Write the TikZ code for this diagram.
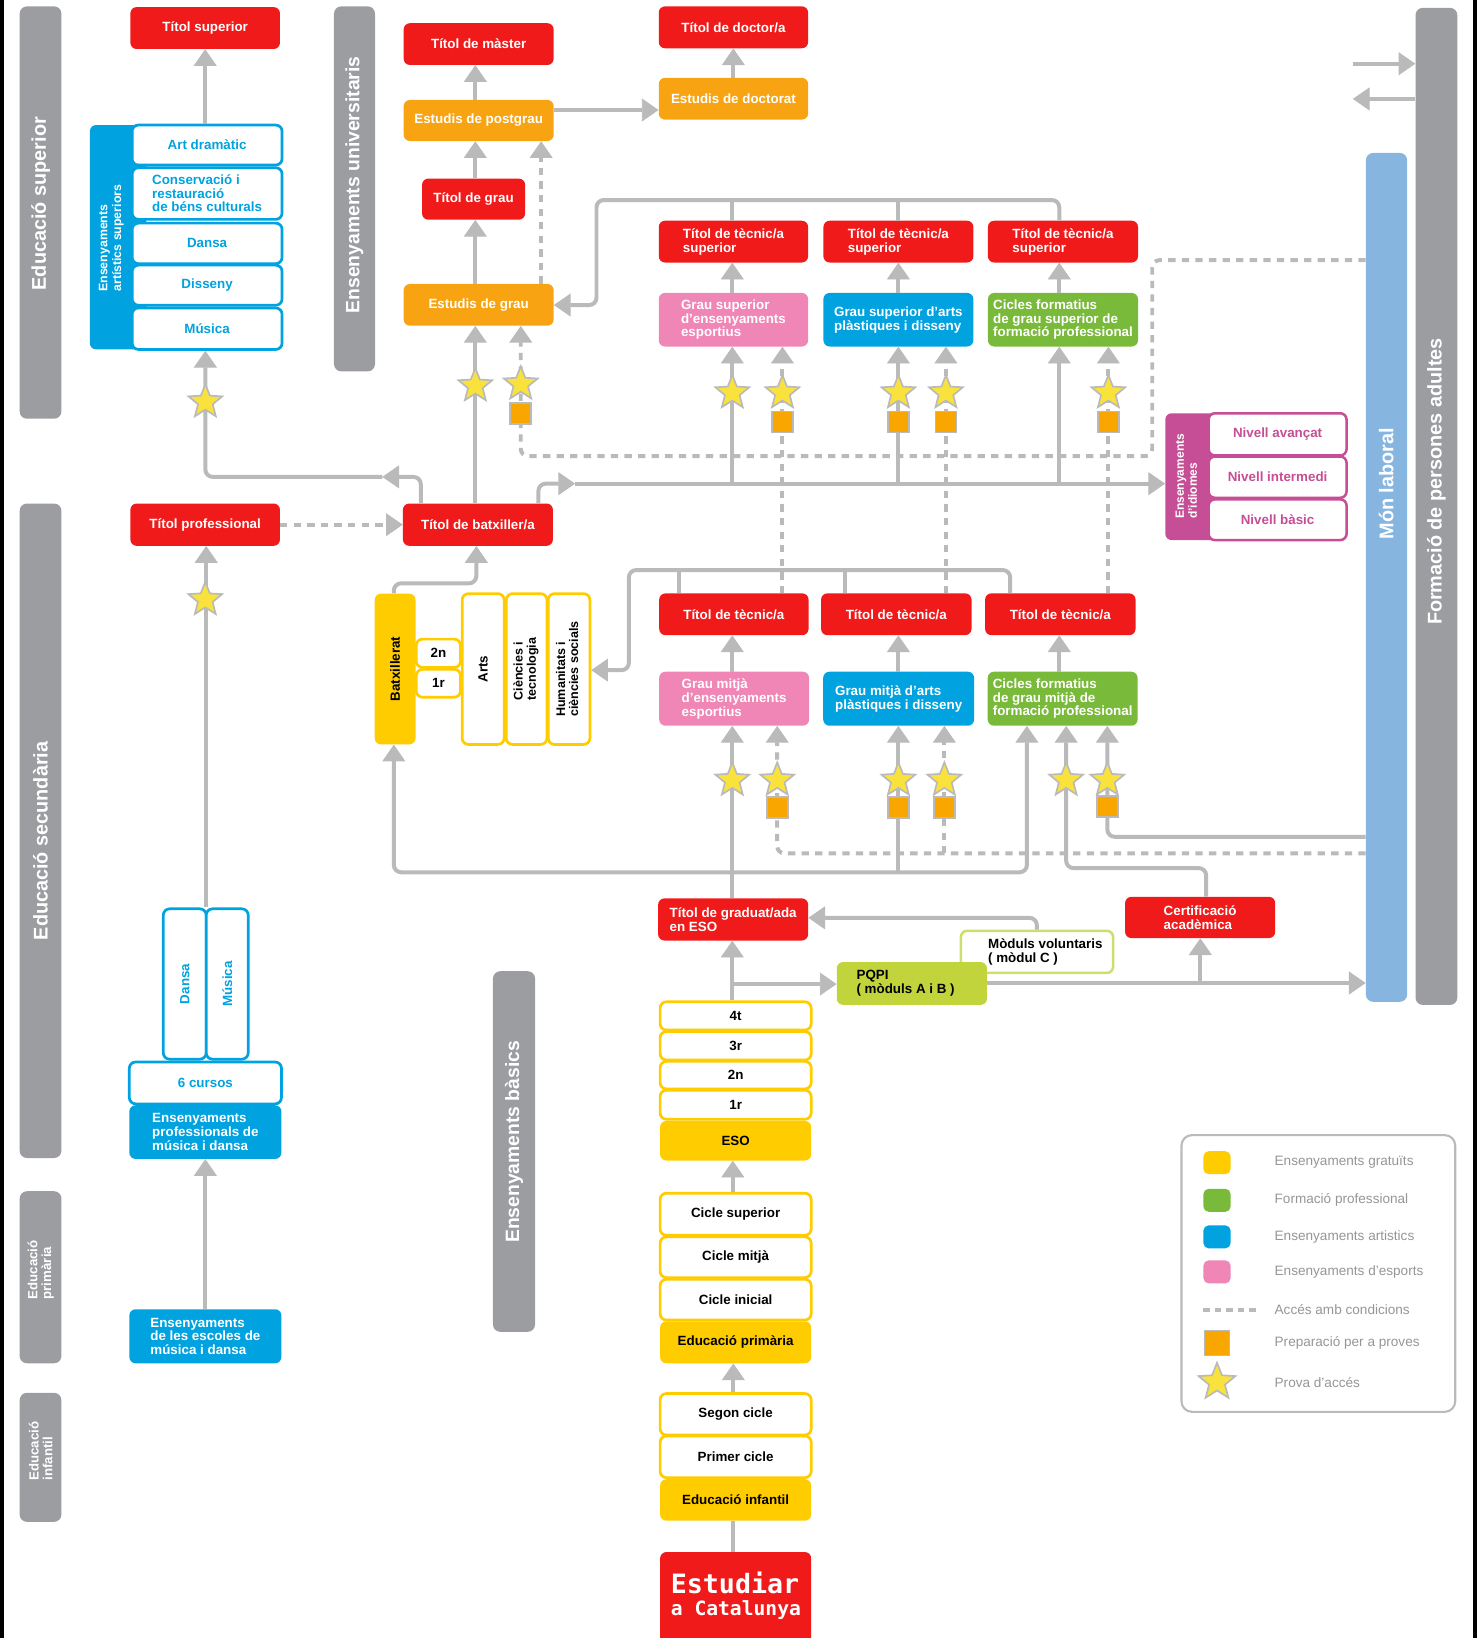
\documentclass[tikz,border=0pt]{standalone}
\usepackage{fontspec}
\setmainfont{Liberation Sans}
\newfontfamily\monof{DejaVu Sans Mono}
\usepackage{graphicx}
\usetikzlibrary{arrows.meta,shapes.geometric}
\definecolor{cred}{RGB}{240,26,26}
\definecolor{corange}{RGB}{248,164,18}
\definecolor{cpink}{RGB}{240,134,182}
\definecolor{cblue}{RGB}{0,163,224}
\definecolor{cgreen}{RGB}{122,186,58}
\definecolor{clime}{RGB}{193,212,60}
\definecolor{climeb}{RGB}{205,222,110}
\definecolor{cyellow}{RGB}{255,204,0}
\definecolor{cmag}{RGB}{198,78,150}
\definecolor{cbar}{RGB}{155,157,160}
\definecolor{cmon}{RGB}{134,182,224}
\definecolor{cline}{RGB}{186,186,186}
\definecolor{cstar}{RGB}{250,226,60}
\definecolor{csq}{RGB}{250,166,0}
\definecolor{clegtxt}{RGB}{150,150,150}
\newcommand\fs{\fontsize{12.8}{13.2}\selectfont}
\newcommand\rt[1]{\rotatebox{90}{\begin{tabular}{@{}l@{}}#1\end{tabular}}}
\newcommand\bx[7]{\node[#6,minimum width={(#4-#2)*1pt},minimum height={(#5-#3)*1pt}] (#1) at ({(#2+#4)/2},{(#3+#5)/2}) {#7};}
\begin{document}
\begin{tikzpicture}[x=1pt,y=-1pt,
 bar/.style={fill=cbar,rounded corners=7pt,inner sep=0pt},
 barlab/.style={text=white,font=\bfseries\fontsize{19}{20}\selectfont,rotate=90,inner sep=0pt,align=left},
 bx/.style={rounded corners=6pt,inner sep=0pt,font=\bfseries\fs,align=center},
 rbx/.style={bx,fill=cred,text=white},
 obx/.style={bx,fill=corange,text=white},
 pbx/.style={bx,fill=cpink,text=white},
 bbx/.style={bx,fill=cblue,text=white},
 gbx/.style={bx,fill=cgreen,text=white},
 ybx/.style={bx,fill=cyellow,text=black},
 wby/.style={bx,fill=white,draw=cyellow,line width=2.6pt,text=black},
 wbb/.style={bx,fill=white,draw=cblue,line width=2.6pt,text=cblue},
 wbm/.style={bx,fill=white,draw=cmag,line width=2.4pt,text=cmag},
 lbx/.style={bx,fill=clime,text=black},
 wbl/.style={bx,fill=white,draw=climeb,line width=2.4pt,text=black},
 conn/.style={draw=cline,line width=3.8pt,rounded corners=7pt},
 arr/.style={-{Triangle[width=22pt,length=16pt,line width=0.8pt]}},
 dsh/.style={dash pattern=on 7pt off 6pt},
 prova/.style={star,star points=5,star point ratio=2.3,minimum size=34pt,inner sep=0pt,fill=cstar,draw=cline,line width=1.6pt},
 prep/.style={rectangle,minimum width=20pt,minimum height=20pt,inner sep=0pt,fill=csq,draw=cline,line width=1.6pt},
 legt/.style={anchor=west,text=clegtxt,font=\fontsize{13}{14}\selectfont,inner sep=0pt}]
\useasboundingbox (0,0) rectangle (1416,1568);
% frame
\fill[black] (0,0) rectangle (4,1568);
\fill[black] (1410,0) rectangle (1414,1568);
% grey bars
\bx{bEsup}{18.8}{6.1}{58.8}{400.8}{bar}{}
\bx{bEsec}{18.8}{482}{58.8}{1108.5}{bar}{}
\bx{bEprim}{18.8}{1140.3}{58.8}{1305}{bar}{}
\bx{bEinf}{18.8}{1333.3}{58.8}{1456.8}{bar}{}
\bx{bEuni}{319.7}{6.1}{359}{355.5}{bar}{}
\bx{bEbas}{471.9}{929.7}{512.2}{1274.9}{bar}{}
\bx{bFpa}{1355}{7.5}{1395}{962}{bar}{}
\bx{bMon}{1307.5}{146.4}{1347}{959}{bar,fill=cmon}{}
\node[barlab] (lEsup) at (38.8,195) {Educació superior};
\node[barlab] (lEsec) at (38.8,805) {Educació secundària};
\node[barlab,font=\bfseries\fontsize{12.7}{13.2}\selectfont] (lEprim) at (39,1215.5) {Educació\\primària};
\node[barlab,font=\bfseries\fontsize{12.7}{13.2}\selectfont] (lEinf) at (39,1389) {Educació\\infantil};
\node[barlab,font=\bfseries\fontsize{18.5}{20}\selectfont] (lEuni) at (339.3,177) {Ensenyaments universitaris};
\node[barlab,font=\bfseries\fontsize{18.5}{20}\selectfont] (lEbas) at (492,1093) {Ensenyaments bàsics};
\node[barlab] (lFpa) at (1375,461) {Formació de persones adultes};
\node[barlab] (lMon) at (1327,463) {Món laboral};
% university column
\bx{tsup}{124.8}{6.8}{268}{46.9}{rbx}{Títol superior}
\bx{tmas}{386.4}{22.2}{530}{62.2}{rbx}{Títol de màster}
\bx{tdoc}{630.6}{6.1}{773.6}{46.2}{rbx}{Títol de doctor/a}
\bx{edoc}{630.6}{74.5}{773.6}{114.5}{obx}{Estudis de doctorat}
\bx{epos}{386.4}{95.7}{530}{135}{obx}{Estudis de postgrau}
\bx{tgrau}{404}{171}{502.7}{210.3}{rbx}{Títol de grau}
\bx{egrau}{386.4}{271.8}{530}{311.8}{obx}{Estudis de grau}
\bx{tts1}{630.6}{211.3}{773.6}{251.3}{rbx,align=left}{Títol de tècnic/a\\superior}
\bx{tts2}{788.2}{211.3}{931.8}{251.3}{rbx,align=left}{Títol de tècnic/a\\superior}
\bx{tts3}{945.7}{211.3}{1089.4}{251.3}{rbx,align=left}{Títol de tècnic/a\\superior}
\bx{gs1}{630.6}{280.4}{773.6}{331.7}{pbx,align=left}{Grau superior\\d’ensenyaments\\esportius}
\bx{gs2}{788.2}{280.4}{931.8}{331.7}{bbx,align=left}{Grau superior d’arts\\plàstiques i disseny}
\bx{gs3}{945.7}{280.4}{1089.4}{331.7}{gbx,align=left}{Cicles formatius\\de grau superior de\\formació professional}
% artistic superior
\bx{easS}{86}{119.7}{140}{334.5}{bbx}{}
\node[text=white,font=\bfseries\fontsize{11.8}{13}\selectfont,rotate=90,align=left,inner sep=0pt] (easL) at (106.5,228) {Ensenyaments\\artístics superiors};
\bx{eArt}{126.5}{119.7}{270}{158}{wbb}{Art dramàtic}
\bx{eCons}{126.5}{160.6}{270}{210}{wbb,align=left,font=\bfseries\fontsize{12.8}{12.9}\selectfont}{Conservació i\\restauració\\de béns culturals}
\bx{eDan}{126.5}{213.6}{270}{252.4}{wbb}{Dansa}
\bx{eDis}{126.5}{253.8}{270}{292.2}{wbb}{Disseny}
\bx{eMus}{126.5}{294.8}{270}{334.5}{wbb}{Música}
\bx{tprof}{124.8}{482}{268}{522.5}{rbx}{Títol professional}
\bx{batx}{385.7}{482}{529.3}{522.5}{rbx}{Títol de batxiller/a}
% idiomes
\bx{idS}{1115.5}{395.6}{1170}{517}{bx,fill=cmag}{}
\node[text=white,font=\bfseries\fontsize{11.5}{12.5}\selectfont,rotate=90,align=left,inner sep=0pt] (idL) at (1135.5,456) {Ensenyaments\\d’idiomes};
\bx{nAv}{1157}{395.6}{1289}{436}{wbm}{Nivell avançat}
\bx{nIn}{1157}{437}{1289}{476.5}{wbm}{Nivell intermedi}
\bx{nBa}{1157}{478}{1289}{517}{wbm}{Nivell bàsic}
% batxillerat
\bx{batxi}{358.7}{568.3}{397.8}{712.6}{ybx}{\rotatebox{90}{Batxillerat}}
\bx{b2n}{398.5}{611.8}{440.8}{639}{wby}{2n}
\bx{b1r}{398.5}{640.7}{440.8}{667.4}{wby}{1r}
\bx{arts}{442.4}{568.3}{482.6}{712.6}{wby}{\rotatebox{90}{Arts}}
\bx{cien}{484.6}{568.3}{523.6}{712.6}{wby,font=\bfseries\fontsize{12}{12.5}\selectfont}{\rt{Ciències i\\tecnologia}}
\bx{hum}{524.8}{568.3}{564.7}{712.6}{wby,font=\bfseries\fontsize{12}{12.5}\selectfont}{\rt{Humanitats i\\ciències socials}}
% tecnic mig
\bx{ttec1}{631}{568}{774}{608}{rbx}{Títol de tècnic/a}
\bx{ttec2}{786}{568}{930}{608}{rbx}{Títol de tècnic/a}
\bx{ttec3}{943}{568}{1087}{608}{rbx}{Títol de tècnic/a}
\bx{gm1}{631}{643}{774.5}{694.7}{pbx,align=left}{Grau mitjà\\d’ensenyaments\\esportius}
\bx{gm2}{788}{643}{932.5}{694.7}{bbx,align=left}{Grau mitjà d’arts\\plàstiques i disseny}
\bx{gm3}{945.5}{643}{1089}{694.7}{gbx,align=left}{Cicles formatius\\de grau mitjà de\\formació professional}
% bottom
\bx{tgrad}{630}{860}{773.6}{900.3}{rbx,align=left}{Títol de graduat/ada\\en ESO}
\bx{modc}{919.8}{891}{1065.5}{931.4}{wbl,align=left}{\hspace*{16pt}Mòduls voluntaris\\ \hspace*{16pt}( mòdul C )}
\bx{pqpi}{801}{921}{944.8}{961.9}{lbx,align=left}{PQPI\\( mòduls A i B )\hspace*{12pt}}
\bx{cert}{1077}{858.5}{1220.7}{898}{rbx,align=left}{Certificació\\acadèmica}
\bx{y4t}{631.9}{959}{776.5}{986}{wby}{4t}
\bx{y3r}{631.9}{987.4}{776.5}{1014.7}{wby}{3r}
\bx{y2n}{631.9}{1016}{776.5}{1042.4}{wby}{2n}
\bx{y1r}{631.9}{1043.6}{776.5}{1071.4}{wby}{1r}
\bx{eso}{631.9}{1073}{776.5}{1110.9}{ybx}{ESO}
\bx{csup}{631.9}{1142.2}{776.5}{1182.5}{wby}{Cicle superior}
\bx{cmit}{631.9}{1184}{776.5}{1223}{wby}{Cicle mitjà}
\bx{cini}{631.9}{1224.6}{776.5}{1263.6}{wby}{Cicle inicial}
\bx{eprim}{631.9}{1264.8}{776.5}{1305}{ybx}{Educació primària}
\bx{scic}{631.9}{1334}{776.5}{1373.7}{wby}{Segon cicle}
\bx{pcic}{631.9}{1374.6}{776.5}{1414.5}{wby}{Primer cicle}
\bx{einf}{631.9}{1416}{776.5}{1455.7}{ybx}{Educació infantil}
\bx{estud}{631.9}{1485.7}{776.5}{1590}{rbx}{}
\node[anchor=base west,inner sep=0pt,text=white,font=\monof\bfseries\fontsize{25.5}{26}\selectfont] (est1) at (642,1525) {Estudiar};
\node[anchor=base west,inner sep=0pt,text=white,font=\monof\bfseries\fontsize{18.8}{20}\selectfont] (est2) at (642,1546) {a Catalunya};
% left column
\bx{dansaV}{156.3}{870}{197.4}{1013.9}{wbb}{\rotatebox{90}{Dansa}}
\bx{musV}{197.4}{870}{237.6}{1013.9}{wbb}{\rotatebox{90}{Música}}
\bx{c6}{123.8}{1016.6}{269.4}{1056.7}{wbb}{6 cursos}
\bx{ensprof}{123.8}{1058}{269.4}{1109.4}{bbx,align=left}{Ensenyaments\\professionals de\\música i dansa}
\bx{ensesc}{123.8}{1253.3}{269.4}{1305}{bbx,align=left}{Ensenyaments\\de les escoles de\\música i dansa}
% ---------- connectors
\draw[conn,arr] (eArt.north -| tsup.south) -- (tsup.south);
\draw[conn,arr] (batx.north -| 402.8,0) |- (366,456.5);
\draw[conn,arr] (366,456.5) -| (eMus.south -| 196.6,0);
\draw[conn,arr] (batx.north -| 455,0) -- (egrau.south -| 455,0);
\draw[conn,arr] (egrau.north -| 455,0) -- (tgrau.south -| 455,0);
\draw[conn,arr] (tgrau.north -| 455,0) -- (epos.south -| 455,0);
\draw[conn,arr] (epos.north -| 455,0) -- (tmas.south -| 455,0);
\draw[conn,dsh,arr] (egrau.north -| 518,0) -- (epos.south -| 518,0);
\draw[conn,arr] (epos.east |- 0,105.3) -- (edoc.west |- 0,105.3);
\draw[conn,arr] (edoc.north -| 702,0) -- (tdoc.south -| 702,0);
\draw[conn,arr] (batx.north -| 515.4,0) |- (550.5,463);
\draw[conn,arr] (550.5,463) -- (idS.west |- 0,463);
\draw[conn,arr] (701,463) -- (gs1.south -| 701,0);
\draw[conn,arr] (860,463) -- (gs2.south -| 860,0);
\draw[conn,arr] (1014,463) -- (gs3.south -| 1014,0);
\draw[conn,dsh,arr] (bMon.west |- 0,249) -| (1103,436.6) -| (egrau.south -| 498.5,0);
\draw[conn,dsh,arr] (ttec1.north -| 749,0) -- (gs1.south -| 749,0);
\draw[conn,dsh,arr] (ttec2.north -| 905.5,0) -- (gs2.south -| 905.5,0);
\draw[conn,dsh,arr] (ttec3.north -| 1061,0) -- (gs3.south -| 1061,0);
\draw[conn,arr] (gs1.north -| 701,0) -- (tts1.south -| 701,0);
\draw[conn,arr] (gs2.north -| 860,0) -- (tts2.south -| 860,0);
\draw[conn,arr] (gs3.north -| 1014,0) -- (tts3.south -| 1014,0);
\draw[conn] (tts1.north -| 701,0) -- (701,191.5);
\draw[conn] (tts2.north -| 860,0) -- (860,191.5);
\draw[conn,arr] (tts3.north -| 1014,0) |- (571,191.5) |- (egrau.east |- 0,292);
\draw[conn,arr] (gm1.north -| 701,0) -- (ttec1.south -| 701,0);
\draw[conn,arr] (gm2.north -| 860,0) -- (ttec2.south -| 860,0);
\draw[conn,arr] (gm3.north -| 1014,0) -- (ttec3.south -| 1014,0);
\draw[conn] (ttec1.north -| 650,0) -- (650,545.7);
\draw[conn] (ttec2.north -| 808.6,0) -- (808.6,545.7);
\draw[conn,arr] (ttec3.north -| 967,0) |- (602,545.7) |- (hum.east |- 0,641.5);
\draw[conn,arr] (tgrad.north -| 701,0) -- (gm1.south -| 701,0);
\draw[conn,arr] (701,835) -| (batxi.south -| 377,0);
\draw[conn,arr] (701,835) -| (gm3.south -| 983,0);
\draw[conn,arr] (860,835) -- (gm2.south -| 860,0);
\draw[conn,dsh,arr] (bMon.west |- 0,817) -| (gm1.south -| 744,0);
\draw[conn,dsh,arr] (904,817) -- (gm2.south -| 904,0);
\draw[conn,arr] (bMon.west |- 0,801) -| (gm3.south -| 1060,0);
\draw[conn,arr] (cert.north -| 1154.6,0) |- (1020.6,831) -- (gm3.south -| 1020.6,0);
\draw[conn,arr] (y4t.north -| 701,0) -- (tgrad.south -| 701,0);
\draw[conn,arr] (701,942) -- (pqpi.west |- 0,942);
\draw[conn,arr] (pqpi.east |- 0,941) -- (bMon.west |- 0,941);
\draw[conn,arr] (1149,941) -- (cert.south -| 1149,0);
\draw[conn,arr] (modc.north -| 992.5,0) |- (tgrad.east |- 0,878.6);
\draw[conn,arr] (csup.north -| 701.5,0) -- (eso.south -| 701.5,0);
\draw[conn,arr] (scic.north -| 702,0) -- (eprim.south -| 702,0);
\draw[conn] (einf.south -| 702,0) -- (estud.north -| 702,0);
\draw[conn,arr] (dansaV.north -| 197.4,0) -- (tprof.south -| 197.4,0);
\draw[conn,arr] (ensesc.north -| 196.6,0) -- (ensprof.south -| 196.6,0);
\draw[conn,dsh,arr] (tprof.east) -- (batx.west);
\draw[conn,arr] (batxi.north -| 377,0) |- (456,558.4) -- (batx.south -| 456,0);
\coordinate (fr1) at (1295.6,61);
\coordinate (fr2) at (1295,94.7);
\draw[conn,arr] (fr1) -- (bFpa.west |- fr1);
\draw[conn,arr] (bFpa.west |- fr2) -- (fr2);
% ---------- stars and squares
\node[prova] (sa) at (196.6,384.7) {};
\node[prova] (sb) at (455,369.3) {};
\node[prep] (qc) at (498.5,396) {};
\node[prova] (sc) at (498.5,367.6) {};
\node[prova] (sd) at (701,376) {};
\node[prep] (qe) at (749,404) {};
\node[prova] (se) at (749,376) {};
\node[prep] (qf) at (860,404) {};
\node[prova] (sf) at (860,376) {};
\node[prep] (qg) at (905.5,404) {};
\node[prova] (sg) at (905.5,376) {};
\node[prep] (qh) at (1061,404) {};
\node[prova] (sh) at (1061,376) {};
\node[prova] (si) at (196.5,574) {};
\node[prova] (sj) at (701,746.8) {};
\node[prep] (qk) at (744,773) {};
\node[prova] (sk) at (744,746.8) {};
\node[prep] (ql) at (860,773) {};
\node[prova] (sl) at (860,746.8) {};
\node[prep] (qm) at (904,773) {};
\node[prova] (sm) at (904,746.8) {};
\node[prova] (sn) at (1020.6,746.8) {};
\node[prep] (qo) at (1060,772) {};
\node[prova] (so) at (1060,746.8) {};
% ---------- legend
\bx{leg}{1131}{1086.6}{1393}{1351.5}{bx,draw=cline,line width=2pt,rounded corners=10pt,fill=white}{}
\bx{lg1}{1152}{1102}{1178}{1124}{bx,fill=cyellow,rounded corners=5pt}{}
\bx{lg2}{1152}{1138}{1178}{1160}{bx,fill=cgreen,rounded corners=5pt}{}
\bx{lg3}{1152}{1173}{1178}{1195}{bx,fill=cblue,rounded corners=5pt}{}
\bx{lg4}{1152}{1206.5}{1178}{1228.5}{bx,fill=cpink,rounded corners=5pt}{}
\coordinate (lg5a) at (1152,1254);
\coordinate (lg5b) at (1203,1254);
\draw[draw=cline,line width=3pt,dash pattern=on 6pt off 5pt] (lg5a) -- (lg5b);
\bx{lg6}{1153}{1273.5}{1177}{1297.5}{prep}{}
\node[prova,minimum size=37pt] (lg7) at (1165,1323) {};
\node[legt] (lt1) at (1220,1113) {Ensenyaments gratuïts};
\node[legt] (lt2) at (1220,1149) {Formació professional};
\node[legt] (lt3) at (1220,1184) {Ensenyaments artistics};
\node[legt] (lt4) at (1220,1217.5) {Ensenyaments d’esports};
\node[legt] (lt5) at (1220,1254) {Accés amb condicions};
\node[legt] (lt6) at (1220,1285.5) {Preparació per a proves};
\node[legt] (lt7) at (1220,1323) {Prova d’accés};
\end{tikzpicture}
\end{document}
